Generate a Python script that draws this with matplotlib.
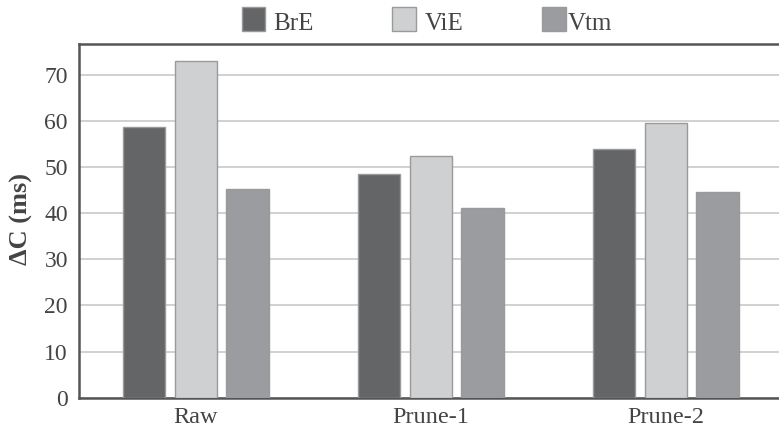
import matplotlib
matplotlib.use("Agg")
import matplotlib.pyplot as plt
from matplotlib.patches import Rectangle
import numpy as np

categories = ["Raw", "Prune-1", "Prune-2"]
series_names = ["BrE", "ViE", "Vtm"]
bre = [58.8, 48.6, 53.9]
vie = [73.1, 52.4, 59.5]
vtm = [45.2, 41.1, 44.5]
yticks = [0, 10, 20, 30, 40, 50, 60, 70]

colors = ["#646567", "#cfd0d2", "#9a9c9f"]
edge = "#9a9a9a"
text_color = "#444444"

plt.rcParams["font.family"] = ["Liberation Serif", "DejaVu Serif"]

W, H = 779, 429
fig = plt.figure(figsize=(W / 100, H / 100), dpi=100)
ax_left, ax_bottom, ax_top = 79, 397.7, 44
ax_w = 705
ax = fig.add_axes([ax_left / W, (H - ax_bottom) / H, ax_w / W, (ax_bottom - ax_top) / H])

x = np.arange(len(categories))
width = 0.179
pitch = 0.22
for i, vals in enumerate([bre, vie, vtm]):
    ax.bar(x + (i - 1) * pitch, vals, width, color=colors[i],
           edgecolor=edge, linewidth=1.0, zorder=3)

ax.set_xlim(-0.497, 2.503)
ax.set_ylim(0, 76.7)
ax.set_yticks(yticks)
ax.set_xticks(x)
ax.set_xticklabels(categories)
ax.tick_params(axis="both", length=0, colors=text_color)
ax.tick_params(axis="y", pad=8, labelsize=17)
ax.tick_params(axis="x", pad=7, labelsize=17.5)
ax.yaxis.grid(True, color="#c9c9c9", linewidth=1.2, zorder=0)
ax.set_axisbelow(True)

for side in ["left", "bottom", "top"]:
    ax.spines[side].set_color("#555555")
    ax.spines[side].set_linewidth(1.8)
ax.spines["right"].set_visible(False)

ax.set_ylabel("ΔC (ms)", fontsize=19, fontweight="bold", color=text_color)
ax.yaxis.set_label_coords((33 - ax_left) / ax_w, 0.505)

# legend row across the top
patch_x = [241.7, 392.3, 542.3]
text_x = [273, 425, 567.5]
for px, tx, name, c in zip(patch_x, text_x, series_names, colors):
    fig.add_artist(Rectangle((px / W, 1 - 30.7 / H), 23.5 / W, 23.4 / H,
                             transform=fig.transFigure, facecolor=c,
                             edgecolor=edge, linewidth=1.0))
    fig.text(tx / W, 1 - 30 / H, name, fontsize=18, color=text_color,
             ha="left", va="baseline")

fig.savefig("out.png", dpi=100)
